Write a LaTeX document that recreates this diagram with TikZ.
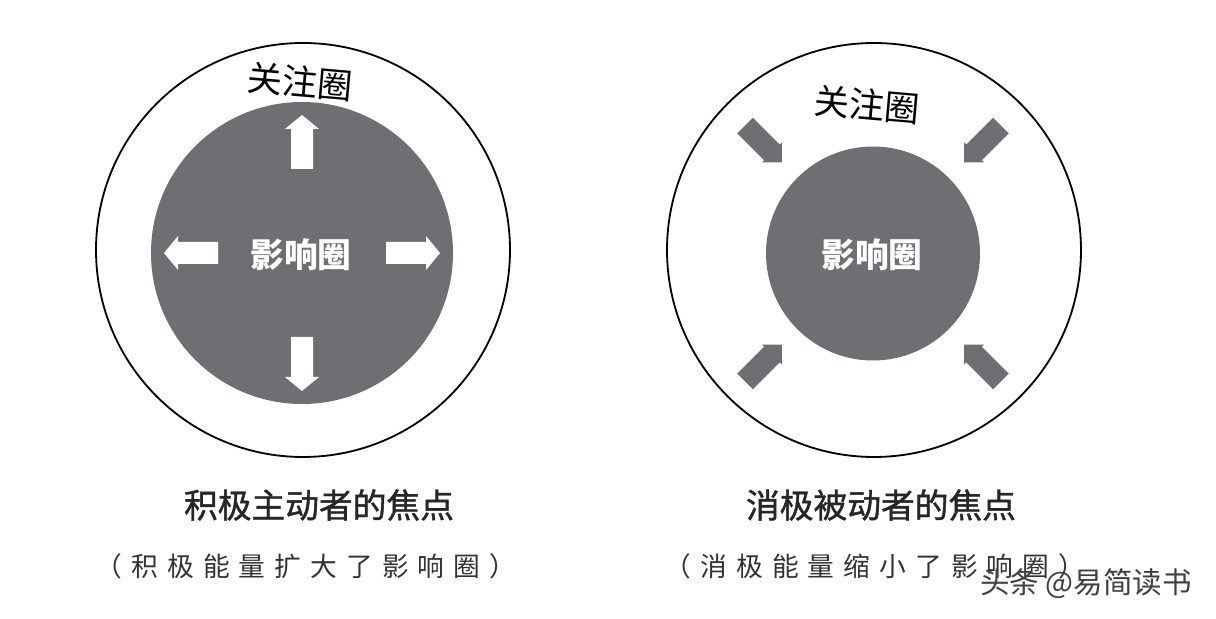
\documentclass[tikz,border=0pt]{standalone}
\usepackage{fontspec}
\newfontfamily\cjk{Noto Sans CJK SC}
\newfontfamily\cjkmed[FakeBold=1.2]{Noto Sans CJK SC}
\newfontfamily\cjkwide[LetterSpace=34]{Noto Sans CJK SC}
\usepackage{tikz}
\usetikzlibrary{positioning}
\definecolor{infl_gray}{RGB}{110, 111, 114}

\begin{document}
\begin{tikzpicture}[x=0.025cm, y=0.025cm,
        focus/.style={draw=black, line width=1.3pt},
        infl/.style={fill=infl_gray},
        ttl/.style={font=\cjk\fontsize{25}{25}\selectfont, rotate=-5},
        core/.style={font=\cjk\bfseries\fontsize{24}{24}\selectfont, text=white},
        captxt/.style={font=\cjkmed\fontsize{24}{24}\selectfont, text=black!85},
        subtxt/.style={font=\cjkwide\fontsize{19}{19}\selectfont, text=black!80}]
        \useasboundingbox (0,0) rectangle (1216,618);
        \fill[white] (0,0) rectangle (1216,618);
        % left: proactive focus
        \coordinate (lfoc) at (303,368);
        \coordinate (linf) at (302,365);
        \draw[focus] (lfoc) circle[radius=207];
        \fill[infl] (linf) circle[radius=151];
        \foreach \ang in {0,90,180,270}
          \fill[white, shift={(linf)}, rotate=\ang]
            (84,-11) -- (124,-11) -- (124,-17) -- (138,0)
            -- (124,17) -- (124,11) -- (84,11) -- cycle;
        \node[ttl] (lttl) at (300,536) {关注圈};
        \node[core] (lcore) at (301,363) {影响圈};
        \node[captxt] (lcap) at (319,113) {积极主动者的焦点};
        \node[subtxt] (lsub) at (306,52) {（积极能量扩大了影响圈）};
        % right: reactive focus
        \coordinate (rfoc) at (874,368);
        \coordinate (rinf) at (873,364.5);
        \draw[focus] (rfoc) circle[radius=207];
        \fill[infl] (rinf) circle[radius=107];
        \foreach \ang in {45,135,225,315}
          \fill[infl, shift={(rinf)}, rotate=\ang]
            (181,-11) -- (143,-11) -- (143,-14) -- (129,0)
            -- (143,14) -- (143,11) -- (181,11) -- cycle;
        \node[ttl] (rttl) at (867,513) {关注圈};
        \node[core] (rcore) at (872,363) {影响圈};
        \node[captxt] (rcap) at (881,113) {消极被动者的焦点};
        \node[subtxt] (rsub) at (875,52) {（消极能量缩小了影响圈）};
        \node[font=\cjk\fontsize{21}{21}\selectfont, text=black!75]
          (mark) at (1086,34) {头条 @易简读书};
      \end{tikzpicture}
\end{document}
